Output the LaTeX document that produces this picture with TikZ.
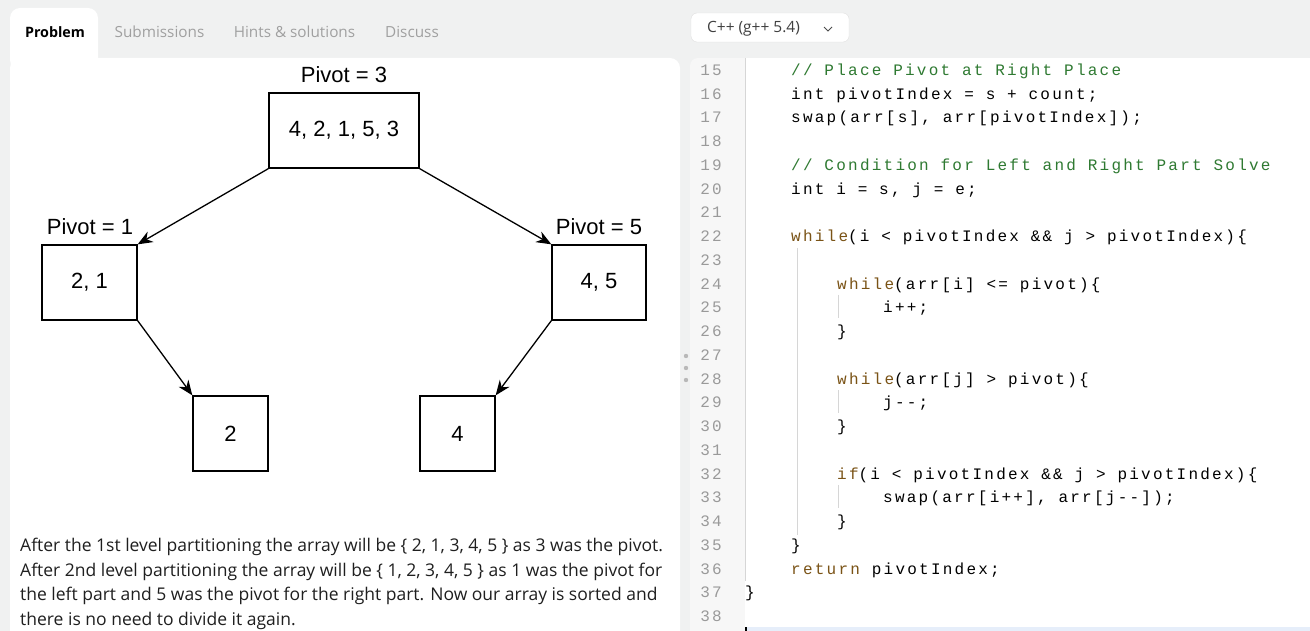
\documentclass[tikz,border=0pt]{standalone}
\usepackage{fontspec}
\setmainfont{Liberation Sans}
\newfontfamily\uifont{Open Sans}
\newfontfamily\codefont{Liberation Mono}[LetterSpace=14]
\usetikzlibrary{arrows.meta}
\definecolor{pagebg}{HTML}{F0F1F1}
\definecolor{gutterbg}{HTML}{F7F7F7}
\definecolor{tabgray}{HTML}{A0A0A0}
\definecolor{numgray}{HTML}{9A9A9A}
\definecolor{kwbrown}{HTML}{7A5316}
\definecolor{cmtgreen}{HTML}{2F7A32}
\definecolor{guide}{HTML}{D6D6D6}
\definecolor{actline}{HTML}{E6EEFA}
\tikzset{
  box/.style={draw,line width=1.3pt,inner sep=0pt},
  tree/.style={line width=1.3pt,-{Stealth[length=15pt,width=12pt]}},
  piv/.style={font=\fontsize{22}{24}\selectfont},
  tab/.style={font=\uifont\fontsize{15.3}{18}\selectfont,text=tabgray},
  para/.style={anchor=base west,inner sep=0pt,text=black!88,font=\uifont\fontsize{17.5}{20}\selectfont},
  code/.style={anchor=base west,inner sep=0pt,font=\codefont\fontsize{16}{20}\selectfont},
  lnum/.style={anchor=base east,inner sep=0pt,text=numgray,font=\codefont\fontsize{16}{20}\selectfont},
}
\newcommand{\codeln}[3]{\node[code] (c#1) at ({745+11.5*#2},{75.5+23.74*(#1-15)}) {#3};}
\newcommand{\kw}[1]{\textcolor{kwbrown}{#1}}
\begin{document}
\begin{tikzpicture}[x=1pt,y=-1pt]
\useasboundingbox (0,0) rectangle (1310,631);
% background and panels
\fill[pagebg] (0,0) rectangle (1310,631);
\fill[white,rounded corners=10pt] (10,8) rectangle (98,70);
\fill[white,rounded corners=10pt] (10,58) rectangle (680,660);
\fill[gutterbg,rounded corners=8pt] (690,58) rectangle (760,660);
\fill[white] (745,58) rectangle (1310,631);
\draw[guide,line width=1pt] (745,58) -- (745,581);
\fill[actline] (745,627) rectangle (1310,631);
\fill[black] (745,627) rectangle (747,631);
\foreach \d in {356,368,380} \fill[numgray!70] (686,\d) circle (2.2pt);
% tabs
\node[tab,text=black,font=\uifont\bfseries\fontsize{14.3}{18}\selectfont] (tprob) at (55,32) {Problem};
\node[tab] (tsub) at (159.5,32) {Submissions};
\node[tab] (thint) at (294.5,32) {Hints \& solutions};
\node[tab] (tdisc) at (412,32) {Discuss};
% language selector
\draw[black!12,fill=white,rounded corners=6pt] (691,13) rectangle (849,42);
\node[font=\uifont\fontsize{15.5}{17}\selectfont,text=black!75] (lang) at (753.5,28.5) {C++ (g++ 5.4)};
\draw[black!70,line width=1pt] (824,27) -- (828,31) -- (832,27);
% tree
\node[box,minimum width=150pt,minimum height=75pt,piv] (root) at (344,130.5) {4, 2, 1, 5, 3};
\node[box,minimum width=95pt,minimum height=75pt,piv] (left) at (89.5,282.5) {2, 1};
\node[box,minimum width=94pt,minimum height=75pt,piv] (right) at (599,282.5) {4, 5};
\node[box,minimum width=75pt,minimum height=75pt,piv] (ll) at (230.5,433.5) {2};
\node[box,minimum width=75pt,minimum height=75pt,piv] (rl) at (457.5,433.5) {4};
\node[piv] (p3) at (344,75) {Pivot = 3};
\node[piv] (p1) at (90,227) {Pivot = 1};
\node[piv] (p5) at (599,227) {Pivot = 5};
\draw[tree] (root.south west) -- (left.north east);
\draw[tree] (root.south east) -- (right.north west);
\draw[tree] (left.south east) -- (ll.north west);
\draw[tree] (right.south west) -- (rl.north east);
% explanation
\node[para] (t1) at (20,551) {After the 1st level partitioning the array will be \{ 2, 1, 3, 4, 5 \} as 3 was the pivot.};
\node[para] (t2) at (20,576) {After 2nd level partitioning the array will be \{ 1, 2, 3, 4, 5 \} as 1 was the pivot for};
\node[para] (t3) at (20,600.5) {the left part and 5 was the pivot for the right part. Now our array is sorted and};
\node[para] (t4) at (20,625) {there is no need to divide it again.};
% code
\foreach \n in {15,...,38} \node[lnum] (n\n) at (722,{75.5+23.74*(\n-15)}) {\n};
\draw[guide] (797,248) -- (797,535);
\draw[guide] (838,295) -- (838,318);
\draw[guide] (838,390) -- (838,413);
\draw[guide] (838,485) -- (838,508);
\codeln{15}{4}{\textcolor{cmtgreen}{// Place Pivot at Right Place}}
\codeln{16}{4}{int pivotIndex = s + count;}
\codeln{17}{4}{swap(arr[s], arr[pivotIndex]);}
\codeln{19}{4}{\textcolor{cmtgreen}{// Condition for Left and Right Part Solve}}
\codeln{20}{4}{int i = s, j = e;}
\codeln{22}{4}{\kw{while}(i < pivotIndex \&\& j > pivotIndex)\{}
\codeln{24}{8}{\kw{while}(arr[i] <= pivot)\{}
\codeln{25}{12}{i++;}
\codeln{26}{8}{\}}
\codeln{28}{8}{\kw{while}(arr[j] > pivot)\{}
\codeln{29}{12}{j-{}-;}
\codeln{30}{8}{\}}
\codeln{32}{8}{\kw{if}(i < pivotIndex \&\& j > pivotIndex)\{}
\codeln{33}{12}{swap(arr[i++], arr[j-{}-]);}
\codeln{34}{8}{\}}
\codeln{35}{4}{\}}
\codeln{36}{4}{\kw{return} pivotIndex;}
\codeln{37}{0}{\}}
\end{tikzpicture}
\end{document}
